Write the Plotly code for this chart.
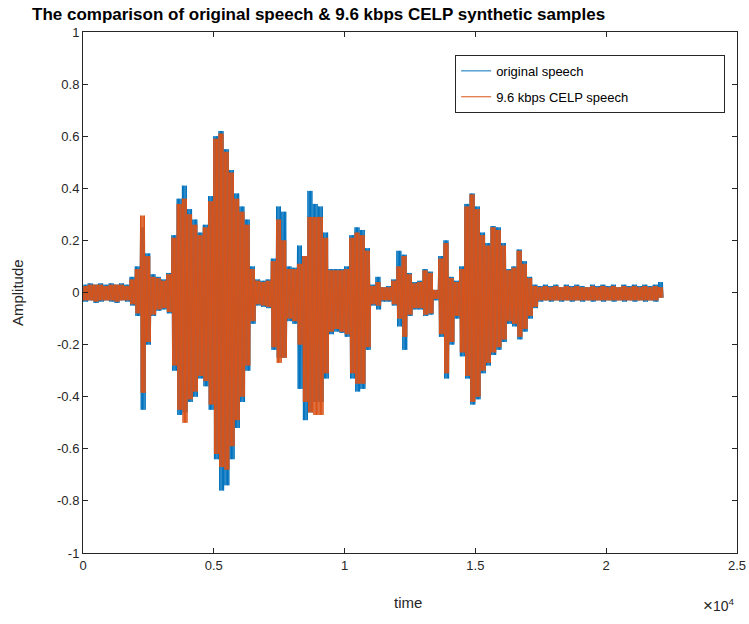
import plotly.graph_objects as go

# sample index of each envelope reading (every 200 samples)
t_start = 0
t_step = 200
# original speech: upper and lower peak amplitudes read per 200-sample window
orig_upper = [0.03, 0.035, 0.03, 0.035, 0.03, 0.035, 0.03, 0.035, 0.03, 0.06,
              0.10, 0.25, 0.15, 0.07, 0.06, 0.05, 0.075, 0.22, 0.36, 0.41,
              0.32, 0.28, 0.23, 0.26, 0.37, 0.60, 0.62, 0.55, 0.47, 0.38,
              0.33, 0.28, 0.10, 0.05, 0.045, 0.05, 0.13, 0.33, 0.31, 0.10,
              0.095, 0.18, 0.14, 0.39, 0.34, 0.33, 0.23, 0.09, 0.09, 0.09,
              0.10, 0.22, 0.25, 0.24, 0.17, 0.03, 0.06, 0.02, 0.025, 0.05,
              0.16, 0.145, 0.075, 0.04, 0.045, 0.09, 0.08, 0.01, 0.14, 0.20,
              0.06, 0.045, 0.10, 0.34, 0.38, 0.33, 0.23, 0.19, 0.255, 0.25,
              0.19, 0.09, 0.10, 0.165, 0.12, 0.06, 0.03, 0.025, 0.03, 0.025,
              0.03, 0.02, 0.03, 0.025, 0.03, 0.025, 0.02, 0.03, 0.025, 0.03,
              0.025, 0.03, 0.02, 0.03, 0.025, 0.03, 0.025, 0.03, 0.025, 0.03,
              0.04]
orig_lower = [-0.035, -0.03, -0.04, -0.035, -0.03, -0.035, -0.04, -0.03, -0.035, -0.05,
              -0.09, -0.45, -0.20, -0.09, -0.07, -0.065, -0.08, -0.30, -0.47, -0.46,
              -0.42, -0.40, -0.33, -0.36, -0.45, -0.64, -0.76, -0.74, -0.64, -0.52,
              -0.42, -0.30, -0.12, -0.05, -0.055, -0.06, -0.22, -0.25, -0.25, -0.11,
              -0.12, -0.37, -0.49, -0.46, -0.42, -0.42, -0.33, -0.16, -0.15, -0.155,
              -0.17, -0.33, -0.38, -0.37, -0.22, -0.05, -0.065, -0.035, -0.035, -0.05,
              -0.13, -0.22, -0.09, -0.065, -0.065, -0.09, -0.085, -0.03, -0.17, -0.33,
              -0.20, -0.10, -0.245, -0.33, -0.43, -0.41, -0.31, -0.28, -0.24, -0.22,
              -0.19, -0.12, -0.13, -0.18, -0.15, -0.10, -0.06, -0.035, -0.03, -0.035,
              -0.03, -0.035, -0.03, -0.035, -0.03, -0.035, -0.03, -0.035, -0.03, -0.035,
              -0.03, -0.035, -0.03, -0.035, -0.03, -0.035, -0.03, -0.035, -0.03, -0.035,
              -0.02]
# 9.6 kbps CELP synthetic speech
celp_upper = [0.025, 0.03, 0.03, 0.03, 0.025, 0.03, 0.03, 0.03, 0.025, 0.05,
              0.09, 0.295, 0.14, 0.06, 0.055, 0.045, 0.07, 0.21, 0.34, 0.36,
              0.30, 0.26, 0.22, 0.25, 0.35, 0.59, 0.61, 0.54, 0.46, 0.36,
              0.31, 0.26, 0.09, 0.045, 0.04, 0.045, 0.12, 0.28, 0.20, 0.09,
              0.09, 0.11, 0.14, 0.29, 0.29, 0.29, 0.21, 0.085, 0.085, 0.085,
              0.09, 0.21, 0.23, 0.22, 0.16, 0.025, 0.04, 0.02, 0.02, 0.045,
              0.10, 0.14, 0.07, 0.035, 0.04, 0.085, 0.075, 0.01, 0.13, 0.19,
              0.055, 0.04, 0.09, 0.33, 0.376, 0.32, 0.22, 0.18, 0.25, 0.24,
              0.18, 0.085, 0.095, 0.16, 0.11, 0.055, 0.025, 0.02, 0.025, 0.02,
              0.025, 0.02, 0.025, 0.02, 0.025, 0.02, 0.02, 0.025, 0.02, 0.025,
              0.02, 0.025, 0.02, 0.025, 0.02, 0.025, 0.02, 0.025, 0.02, 0.025,
              0.02]
celp_lower = [-0.03, -0.03, -0.035, -0.03, -0.03, -0.03, -0.035, -0.03, -0.03, -0.045,
              -0.08, -0.385, -0.19, -0.085, -0.065, -0.06, -0.075, -0.28, -0.45, -0.50,
              -0.41, -0.38, -0.32, -0.34, -0.43, -0.62, -0.67, -0.68, -0.59, -0.49,
              -0.40, -0.28, -0.11, -0.045, -0.05, -0.055, -0.21, -0.27, -0.25, -0.10,
              -0.11, -0.20, -0.42, -0.46, -0.47, -0.47, -0.31, -0.15, -0.14, -0.15,
              -0.16, -0.31, -0.35, -0.35, -0.21, -0.045, -0.05, -0.03, -0.03, -0.045,
              -0.10, -0.17, -0.085, -0.06, -0.06, -0.085, -0.08, -0.025, -0.16, -0.31,
              -0.19, -0.09, -0.23, -0.32, -0.42, -0.40, -0.30, -0.27, -0.23, -0.21,
              -0.18, -0.11, -0.12, -0.17, -0.14, -0.09, -0.055, -0.03, -0.03, -0.03,
              -0.03, -0.03, -0.03, -0.03, -0.03, -0.03, -0.03, -0.03, -0.03, -0.03,
              -0.03, -0.03, -0.03, -0.03, -0.03, -0.03, -0.03, -0.03, -0.03, -0.03,
              -0.02]

y_tickvals = [-1, -0.8, -0.6, -0.4, -0.2, 0, 0.2, 0.4, 0.6, 0.8, 1]
y_ticktext = ["-1", "-0.8", "-0.6", "-0.4", "-0.2", "0", "0.2", "0.4", "0.6", "0.8", "1"]
x_tickvals = [0, 5000, 10000, 15000, 20000, 25000]
x_ticktext = ["0", "0.5", "1", "1.5", "2", "2.5"]

def zigzag(upper, lower, cycles=4):
    xs, ys = [], []
    sub = t_step / (2 * cycles)
    for i, (u, l) in enumerate(zip(upper, lower)):
        t0 = t_start + i * t_step
        for c in range(cycles):
            xs.append(t0 + 2 * c * sub)
            ys.append(u)
            xs.append(t0 + (2 * c + 1) * sub)
            ys.append(l)
    return xs, ys

ox, oy = zigzag(orig_upper, orig_lower)
cx, cy = zigzag(celp_upper, celp_lower)

FONT = "Liberation Sans, Arial, sans-serif"
AX = "#262626"
PAD = "\u00a0" * 25

fig = go.Figure()
fig.add_trace(go.Scatter(x=ox, y=oy, mode="lines", name="original speech",
                         legendgroup="a",
                         line=dict(color="#0072BD", width=1, simplify=False)))
fig.add_trace(go.Scatter(x=cx, y=cy, mode="lines", name="9.6 kbps CELP speech" + PAD,
                         legendgroup="b",
                         line=dict(color="#D95319", width=1, simplify=False)))

axis_common = dict(showline=True, linecolor=AX, linewidth=1, mirror="ticks",
                   ticks="inside", ticklen=5, tickcolor=AX, showgrid=False,
                   zeroline=False, automargin=False,
                   tickfont=dict(family=FONT, size=13, color=AX))
fig.update_xaxes(range=[0, 25000], tickvals=x_tickvals, ticktext=x_ticktext, **axis_common)
fig.update_yaxes(range=[-1, 1], tickvals=y_tickvals, ticktext=y_ticktext, **axis_common)

fig.update_layout(
    width=749, height=624,
    margin=dict(l=83, r=12, t=32, b=71),
    plot_bgcolor="white", paper_bgcolor="white",
    font=dict(family=FONT, color=AX),
    legend=dict(x=0.569, y=0.956, xanchor="left", yanchor="top",
                bgcolor="white", bordercolor=AX, borderwidth=1,
                font=dict(family=FONT, size=13, color="#000000"),
                tracegroupgap=6),
    annotations=[
        dict(text="<b>The comparison of original speech & 9.6 kbps CELP synthetic samples</b>",
             xref="paper", yref="paper", x=-0.081, y=1.0345, xanchor="left", yanchor="middle",
             showarrow=False, font=dict(family=FONT, size=17, color="#000000")),
        dict(text="time", xref="paper", yref="paper", x=0.497, y=-0.095,
             xanchor="center", yanchor="middle", showarrow=False,
             font=dict(family=FONT, size=15, color=AX)),
        dict(text="Amplitude", xref="paper", yref="paper", x=-0.1, y=0.5, textangle=-90,
             xanchor="center", yanchor="middle", showarrow=False,
             font=dict(family=FONT, size=15, color=AX)),
        dict(text="<span style='font-size:17px'>×</span>10<sup>4</sup>",
             xref="paper", yref="paper", x=1.0, y=-0.1,
             xanchor="right", yanchor="middle", showarrow=False,
             font=dict(family=FONT, size=14, color=AX)),
    ],
)

fig.write_html("out.html")
